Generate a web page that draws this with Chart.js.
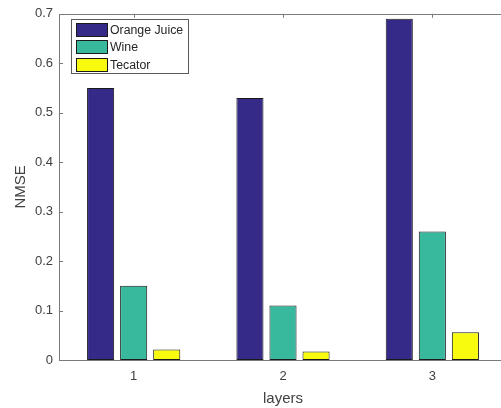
<!DOCTYPE html>
<html>
<head>
<meta charset="utf-8">
<script src="https://cdn.jsdelivr.net/npm/chart.js@4.4.1/dist/chart.umd.min.js"></script>
<style>
  html, body { margin: 0; padding: 0; background: #fff; overflow: hidden; }
  #wrap { width: 508px; height: 408px; }
</style>
</head>
<body>
<div id="wrap"><canvas id="c" width="508" height="408"></canvas></div>
<script>
// Layer counts on the x axis
const categories = ['1', '2', '3'];

// NMSE per data set
const orangeJuice = [0.55, 0.53, 0.69];
const wine = [0.15, 0.11, 0.26];
const tecator = [0.021, 0.017, 0.056];

// y-axis tick labels, 0 .. 0.7
const yTickLabels = ['0', '0.1', '0.2', '0.3', '0.4', '0.5', '0.6', '0.7'];

const seriesNames = ['Orange Juice', 'Wine', 'Tecator'];
const seriesColors = ['#352A87', '#38B99E', '#F9FB0E'];

const FONT = '"Liberation Sans", Arial, Helvetica, sans-serif';
const AXIS_COLOR = '#7a7a7a';
const TEXT_COLOR = '#404040';

// Axes box with inward ticks, drawn like a MATLAB axes
const axesBox = {
  id: 'axesBox',
  beforeDatasetsDraw(chart) {
    const { ctx, chartArea: a, scales: { x, y } } = chart;
    ctx.save();
    ctx.strokeStyle = AXIS_COLOR;
    ctx.lineWidth = 1;
    ctx.beginPath();
    y.ticks.forEach((t, i) => {
      const py = Math.round(y.getPixelForTick(i)) + 0.5;
      ctx.moveTo(a.left, py); ctx.lineTo(a.left + 4, py);
      ctx.moveTo(a.right, py); ctx.lineTo(a.right - 4, py);
    });
    x.ticks.forEach((t, i) => {
      const px = Math.round(x.getPixelForTick(i)) + 0.5;
      ctx.moveTo(px, a.bottom); ctx.lineTo(px, a.bottom - 4);
      ctx.moveTo(px, a.top); ctx.lineTo(px, a.top + 4);
    });
    ctx.stroke();
    ctx.restore();
  },
  afterDatasetsDraw(chart) {
    const { ctx, chartArea: a } = chart;
    ctx.save();
    ctx.strokeStyle = AXIS_COLOR;
    ctx.lineWidth = 1;
    const l = Math.round(a.left) + 0.5, r = Math.round(a.right) + 0.5;
    const t = Math.round(a.top) + 0.5, b = Math.round(a.bottom) + 0.5;
    ctx.strokeRect(l, t, r - l, b - t);
    ctx.restore();
  }
};

// Boxed legend in the upper-left corner of the axes
const boxLegend = {
  id: 'boxLegend',
  afterDraw(chart) {
    const { ctx } = chart;
    ctx.save();
    const bx = 71.5, by = 19.5, bw = 117, bh = 54;
    ctx.fillStyle = '#ffffff';
    ctx.fillRect(bx, by, bw, bh);
    ctx.strokeStyle = '#5a5a5a';
    ctx.lineWidth = 1;
    ctx.strokeRect(bx, by, bw, bh);
    ctx.font = '12.3px ' + FONT;
    ctx.textBaseline = 'middle';
    ctx.textAlign = 'left';
    chart.data.datasets.forEach((ds, i) => {
      const sy = Math.round(23 + i * 17.3) + 0.5;
      ctx.fillStyle = ds.backgroundColor;
      ctx.fillRect(76.5, sy, 31, 13);
      ctx.strokeStyle = '#1a1a1a';
      ctx.strokeRect(76.5, sy, 31, 13);
      ctx.fillStyle = '#262626';
      ctx.fillText(ds.label, 110, sy + 7);
    });
    ctx.restore();
  }
};

const values = [orangeJuice, wine, tecator];

new Chart(document.getElementById('c'), {
  type: 'bar',
  data: {
    labels: categories,
    datasets: values.map((v, i) => ({
      label: seriesNames[i],
      data: v,
      backgroundColor: seriesColors[i],
      borderColor: '#1a1a1a',
      borderWidth: 1,
      borderSkipped: false,
      barPercentage: 0.82,
      categoryPercentage: 0.664
    }))
  },
  options: {
    responsive: false,
    animation: false,
    devicePixelRatio: 1,
    layout: { padding: { left: 0, top: 7, right: 1, bottom: 0 } },
    plugins: { legend: { display: false }, tooltip: { enabled: false } },
    scales: {
      x: {
        grid: { display: false, drawTicks: false },
        border: { display: false },
        ticks: { color: TEXT_COLOR, font: { family: FONT, size: 13 }, padding: 9 },
        title: { display: true, text: 'layers', color: TEXT_COLOR,
                 font: { family: FONT, size: 15 }, padding: { top: 0, bottom: 0 } },
        afterFit(s) { s.height = 48; }
      },
      y: {
        min: 0, max: 0.7,
        grid: { display: false, drawTicks: false },
        border: { display: false },
        ticks: {
          stepSize: 0.1,
          color: TEXT_COLOR,
          font: { family: FONT, size: 13 },
          padding: 6,
          callback: (v, i) => yTickLabels[i]
        },
        title: { display: true, text: 'NMSE', color: TEXT_COLOR,
                 font: { family: FONT, size: 15 }, padding: { top: 12, bottom: 0 } },
        afterFit(s) { s.width = 59; }
      }
    }
  },
  plugins: [axesBox, boxLegend]
});
</script>
</body>
</html>
